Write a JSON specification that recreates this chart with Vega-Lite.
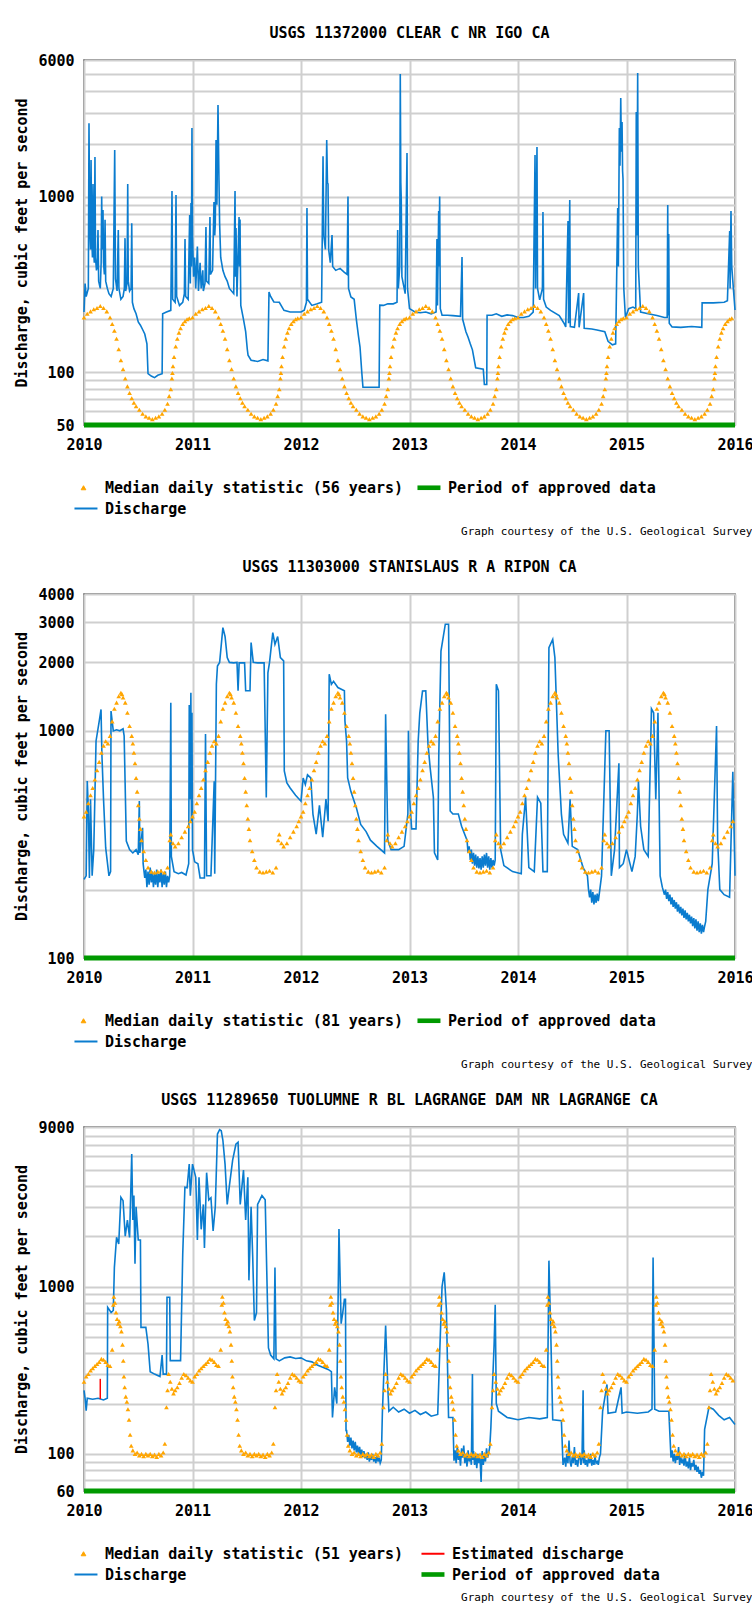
{
"$schema":"https://vega.github.io/schema/vega-lite/v6.json",
"background":"white",
"padding":{"left":14,"top":25,"right":0,"bottom":0},
"spacing":22,
"resolve":{"scale":{"color":"independent"},"legend":{"color":"independent"}},
"config":{
 "font":"DejaVu Sans Mono",
 "view":{"stroke":"#555555","strokeWidth":1.5},
 "axis":{"labelFont":"DejaVu Sans Mono","labelFontSize":15,"labelFontWeight":"bold","labelColor":"#000000","titleFont":"DejaVu Sans Mono","titleFontSize":15,"titleFontWeight":"bold","titleColor":"#000000","gridColor":"#cfcfcf","gridWidth":2,"gridOpacity":1,"domain":false,"ticks":false,"labelFlush":false,"labelOverlap":false},
 "axisY":{"labelPadding":10,"titlePadding":8},
 "axisX":{"labelPadding":12,"titleFontSize":11,"titleFontWeight":"normal","titleX":668,"titleY":106,"titleAlign":"right","titleBaseline":"middle","titleAnchor":"start"},
 "legend":{"labelFont":"DejaVu Sans Mono","labelFontSize":15,"labelFontWeight":"bold","labelColor":"#000000","labelLimit":500,"labelOffset":14,"symbolSize":441,"columnPadding":13,"rowPadding":5,"padding":0,"symbolStrokeWidth":2},
 "title":{"font":"DejaVu Sans Mono","fontSize":15,"fontWeight":"bold","color":"#000000","offset":12}
},
"datasets":{
"d1":[{"t":2010,"v":220},{"t":2010.01,"v":320},{"t":2010.02,"v":270},{"t":2010.04,"v":300},{"t":2010.046,"v":2620},{"t":2010.052,"v":700},{"t":2010.06,"v":500},{"t":2010.065,"v":1615},{"t":2010.07,"v":600},{"t":2010.078,"v":450},{"t":2010.083,"v":1180},{"t":2010.088,"v":500},{"t":2010.095,"v":420},{"t":2010.101,"v":1680},{"t":2010.106,"v":450},{"t":2010.115,"v":380},{"t":2010.122,"v":400},{"t":2010.129,"v":645},{"t":2010.135,"v":330},{"t":2010.15,"v":300},{"t":2010.158,"v":420},{"t":2010.163,"v":1000},{"t":2010.168,"v":500},{"t":2010.175,"v":840},{"t":2010.18,"v":420},{"t":2010.188,"v":360},{"t":2010.194,"v":737},{"t":2010.2,"v":330},{"t":2010.215,"v":300},{"t":2010.23,"v":280},{"t":2010.25,"v":270},{"t":2010.27,"v":300},{"t":2010.283,"v":1840},{"t":2010.29,"v":340},{"t":2010.305,"v":290},{"t":2010.316,"v":645},{"t":2010.322,"v":300},{"t":2010.34,"v":260},{"t":2010.36,"v":270},{"t":2010.372,"v":300},{"t":2010.378,"v":580},{"t":2010.384,"v":290},{"t":2010.397,"v":320},{"t":2010.403,"v":1180},{"t":2010.408,"v":330},{"t":2010.42,"v":290},{"t":2010.434,"v":300},{"t":2010.44,"v":706},{"t":2010.446,"v":250},{"t":2010.46,"v":230},{"t":2010.48,"v":215},{"t":2010.5,"v":193},{"t":2010.52,"v":185},{"t":2010.54,"v":175},{"t":2010.56,"v":165},{"t":2010.58,"v":145},{"t":2010.59,"v":98},{"t":2010.62,"v":95},{"t":2010.65,"v":93},{"t":2010.68,"v":96},{"t":2010.72,"v":98},{"t":2010.725,"v":215},{"t":2010.76,"v":220},{"t":2010.8,"v":225},{"t":2010.811,"v":1077},{"t":2010.817,"v":260},{"t":2010.84,"v":250},{"t":2010.848,"v":1020},{"t":2010.854,"v":270},{"t":2010.88,"v":240},{"t":2010.91,"v":250},{"t":2010.925,"v":280},{"t":2010.931,"v":573},{"t":2010.937,"v":270},{"t":2010.96,"v":260},{"t":2010.974,"v":785},{"t":2010.98,"v":320},{"t":2010.986,"v":918},{"t":2010.99,"v":400},{"t":2010.995,"v":2460},{"t":2011,"v":600},{"t":2011.01,"v":350},{"t":2011.02,"v":450},{"t":2011.03,"v":300},{"t":2011.045,"v":520},{"t":2011.055,"v":290},{"t":2011.07,"v":420},{"t":2011.08,"v":300},{"t":2011.095,"v":380},{"t":2011.1,"v":290},{"t":2011.115,"v":320},{"t":2011.124,"v":671},{"t":2011.13,"v":330},{"t":2011.15,"v":320},{"t":2011.161,"v":765},{"t":2011.166,"v":360},{"t":2011.185,"v":380},{"t":2011.198,"v":933},{"t":2011.205,"v":600},{"t":2011.21,"v":700},{"t":2011.217,"v":2100},{"t":2011.225,"v":900},{"t":2011.235,"v":3325},{"t":2011.244,"v":1240},{"t":2011.25,"v":700},{"t":2011.26,"v":450},{"t":2011.28,"v":380},{"t":2011.3,"v":350},{"t":2011.32,"v":330},{"t":2011.34,"v":300},{"t":2011.38,"v":280},{"t":2011.392,"v":1077},{"t":2011.396,"v":350},{"t":2011.401,"v":662},{"t":2011.41,"v":270},{"t":2011.429,"v":765},{"t":2011.433,"v":400},{"t":2011.438,"v":740},{"t":2011.445,"v":240},{"t":2011.47,"v":200},{"t":2011.49,"v":170},{"t":2011.505,"v":135},{"t":2011.512,"v":125},{"t":2011.54,"v":117},{"t":2011.6,"v":115},{"t":2011.65,"v":118},{"t":2011.695,"v":116},{"t":2011.705,"v":286},{"t":2011.72,"v":270},{"t":2011.75,"v":251},{"t":2011.8,"v":250},{"t":2011.843,"v":225},{"t":2011.9,"v":220},{"t":2012,"v":220},{"t":2012.03,"v":225},{"t":2012.05,"v":250},{"t":2012.055,"v":860},{"t":2012.06,"v":260},{"t":2012.1,"v":240},{"t":2012.15,"v":245},{"t":2012.19,"v":250},{"t":2012.203,"v":1700},{"t":2012.21,"v":600},{"t":2012.225,"v":500},{"t":2012.237,"v":2100},{"t":2012.244,"v":1200},{"t":2012.249,"v":1180},{"t":2012.255,"v":500},{"t":2012.27,"v":420},{"t":2012.286,"v":604},{"t":2012.292,"v":400},{"t":2012.32,"v":380},{"t":2012.36,"v":390},{"t":2012.4,"v":370},{"t":2012.425,"v":360},{"t":2012.433,"v":1000},{"t":2012.438,"v":300},{"t":2012.46,"v":268},{"t":2012.49,"v":260},{"t":2012.51,"v":200},{"t":2012.53,"v":160},{"t":2012.544,"v":139},{"t":2012.56,"v":100},{"t":2012.571,"v":82},{"t":2012.65,"v":82},{"t":2012.72,"v":82},{"t":2012.726,"v":241},{"t":2012.76,"v":240},{"t":2012.8,"v":245},{"t":2012.85,"v":245},{"t":2012.885,"v":250},{"t":2012.891,"v":645},{"t":2012.897,"v":300},{"t":2012.91,"v":400},{"t":2012.915,"v":4990},{"t":2012.92,"v":1200},{"t":2012.924,"v":968},{"t":2012.93,"v":350},{"t":2012.96,"v":280},{"t":2012.977,"v":1770},{"t":2012.982,"v":300},{"t":2013,"v":230},{"t":2013.05,"v":220},{"t":2013.1,"v":218},{"t":2013.15,"v":220},{"t":2013.2,"v":215},{"t":2013.245,"v":220},{"t":2013.253,"v":573},{"t":2013.258,"v":240},{"t":2013.269,"v":828},{"t":2013.273,"v":400},{"t":2013.278,"v":1000},{"t":2013.284,"v":230},{"t":2013.3,"v":211},{"t":2013.35,"v":211},{"t":2013.4,"v":210},{"t":2013.47,"v":208},{"t":2013.484,"v":453},{"t":2013.49,"v":200},{"t":2013.52,"v":170},{"t":2013.54,"v":158},{"t":2013.56,"v":145},{"t":2013.58,"v":134},{"t":2013.61,"v":106},{"t":2013.68,"v":104},{"t":2013.69,"v":85},{"t":2013.712,"v":85},{"t":2013.715,"v":211},{"t":2013.76,"v":211},{"t":2013.8,"v":215},{"t":2013.85,"v":208},{"t":2013.9,"v":212},{"t":2013.95,"v":210},{"t":2014,"v":205},{"t":2014.05,"v":205},{"t":2014.1,"v":208},{"t":2014.14,"v":220},{"t":2014.157,"v":1725},{"t":2014.162,"v":300},{"t":2014.175,"v":1914},{"t":2014.18,"v":300},{"t":2014.2,"v":258},{"t":2014.225,"v":300},{"t":2014.23,"v":817},{"t":2014.236,"v":260},{"t":2014.26,"v":235},{"t":2014.3,"v":225},{"t":2014.38,"v":210},{"t":2014.424,"v":190},{"t":2014.44,"v":181},{"t":2014.461,"v":726},{"t":2014.466,"v":190},{"t":2014.477,"v":957},{"t":2014.482,"v":182},{"t":2014.52,"v":180},{"t":2014.559,"v":282},{"t":2014.563,"v":180},{"t":2014.605,"v":282},{"t":2014.61,"v":178},{"t":2014.68,"v":176},{"t":2014.728,"v":174},{"t":2014.8,"v":170},{"t":2014.83,"v":150},{"t":2014.87,"v":143},{"t":2014.9,"v":145},{"t":2014.919,"v":860},{"t":2014.925,"v":400},{"t":2014.934,"v":2460},{"t":2014.94,"v":1500},{"t":2014.947,"v":3640},{"t":2014.953,"v":1800},{"t":2014.959,"v":2660},{"t":2014.964,"v":1400},{"t":2014.968,"v":1260},{"t":2014.975,"v":300},{"t":2014.99,"v":205},{"t":2015.02,"v":230},{"t":2015.06,"v":235},{"t":2015.085,"v":230},{"t":2015.09,"v":3030},{"t":2015.096,"v":600},{"t":2015.103,"v":5060},{"t":2015.109,"v":400},{"t":2015.13,"v":220},{"t":2015.2,"v":215},{"t":2015.28,"v":210},{"t":2015.35,"v":205},{"t":2015.375,"v":205},{"t":2015.38,"v":895},{"t":2015.384,"v":210},{"t":2015.389,"v":612},{"t":2015.394,"v":190},{"t":2015.42,"v":181},{"t":2015.5,"v":180},{"t":2015.6,"v":182},{"t":2015.694,"v":180},{"t":2015.697,"v":248},{"t":2015.8,"v":248},{"t":2015.9,"v":250},{"t":2015.93,"v":255},{"t":2015.951,"v":637},{"t":2015.955,"v":300},{"t":2015.963,"v":828},{"t":2015.97,"v":400},{"t":2015.985,"v":300},{"t":2016,"v":226}],
"m1":[{"t":2010,"v":205},{"t":2010.03,"v":215},{"t":2010.06,"v":222},{"t":2010.09,"v":228},{"t":2010.12,"v":232},{"t":2010.15,"v":238},{"t":2010.18,"v":232},{"t":2010.21,"v":222},{"t":2010.24,"v":205},{"t":2010.26,"v":188},{"t":2010.28,"v":172},{"t":2010.3,"v":155},{"t":2010.32,"v":135},{"t":2010.34,"v":117},{"t":2010.36,"v":104},{"t":2010.38,"v":92},{"t":2010.4,"v":83},{"t":2010.42,"v":76},{"t":2010.44,"v":71},{"t":2010.46,"v":67},{"t":2010.48,"v":64},{"t":2010.51,"v":61},{"t":2010.54,"v":58},{"t":2010.57,"v":56},{"t":2010.6,"v":55},{"t":2010.63,"v":54},{"t":2010.66,"v":55},{"t":2010.69,"v":56},{"t":2010.72,"v":58},{"t":2010.745,"v":61},{"t":2010.77,"v":66},{"t":2010.785,"v":73},{"t":2010.8,"v":80},{"t":2010.81,"v":92},{"t":2010.815,"v":99},{"t":2010.82,"v":108},{"t":2010.83,"v":122},{"t":2010.845,"v":140},{"t":2010.86,"v":155},{"t":2010.875,"v":168},{"t":2010.89,"v":178},{"t":2010.91,"v":188},{"t":2010.93,"v":195},{"t":2010.95,"v":200},{"t":2010.97,"v":203},
{"t":2011,"v":205},{"t":2011.03,"v":215},{"t":2011.06,"v":222},{"t":2011.09,"v":228},{"t":2011.12,"v":232},{"t":2011.15,"v":238},{"t":2011.18,"v":232},{"t":2011.21,"v":222},{"t":2011.24,"v":205},{"t":2011.26,"v":188},{"t":2011.28,"v":172},{"t":2011.3,"v":155},{"t":2011.32,"v":135},{"t":2011.34,"v":117},{"t":2011.36,"v":104},{"t":2011.38,"v":92},{"t":2011.4,"v":83},{"t":2011.42,"v":76},{"t":2011.44,"v":71},{"t":2011.46,"v":67},{"t":2011.48,"v":64},{"t":2011.51,"v":61},{"t":2011.54,"v":58},{"t":2011.57,"v":56},{"t":2011.6,"v":55},{"t":2011.63,"v":54},{"t":2011.66,"v":55},{"t":2011.69,"v":56},{"t":2011.72,"v":58},{"t":2011.745,"v":61},{"t":2011.77,"v":66},{"t":2011.785,"v":73},{"t":2011.8,"v":80},{"t":2011.81,"v":92},{"t":2011.815,"v":99},{"t":2011.82,"v":108},{"t":2011.83,"v":122},{"t":2011.845,"v":140},{"t":2011.86,"v":155},{"t":2011.875,"v":168},{"t":2011.89,"v":178},{"t":2011.91,"v":188},{"t":2011.93,"v":195},{"t":2011.95,"v":200},{"t":2011.97,"v":203},
{"t":2012,"v":205},{"t":2012.03,"v":215},{"t":2012.06,"v":222},{"t":2012.09,"v":228},{"t":2012.12,"v":232},{"t":2012.15,"v":238},{"t":2012.18,"v":232},{"t":2012.21,"v":222},{"t":2012.24,"v":205},{"t":2012.26,"v":188},{"t":2012.28,"v":172},{"t":2012.3,"v":155},{"t":2012.32,"v":135},{"t":2012.34,"v":117},{"t":2012.36,"v":104},{"t":2012.38,"v":92},{"t":2012.4,"v":83},{"t":2012.42,"v":76},{"t":2012.44,"v":71},{"t":2012.46,"v":67},{"t":2012.48,"v":64},{"t":2012.51,"v":61},{"t":2012.54,"v":58},{"t":2012.57,"v":56},{"t":2012.6,"v":55},{"t":2012.63,"v":54},{"t":2012.66,"v":55},{"t":2012.69,"v":56},{"t":2012.72,"v":58},{"t":2012.745,"v":61},{"t":2012.77,"v":66},{"t":2012.785,"v":73},{"t":2012.8,"v":80},{"t":2012.81,"v":92},{"t":2012.815,"v":99},{"t":2012.82,"v":108},{"t":2012.83,"v":122},{"t":2012.845,"v":140},{"t":2012.86,"v":155},{"t":2012.875,"v":168},{"t":2012.89,"v":178},{"t":2012.91,"v":188},{"t":2012.93,"v":195},{"t":2012.95,"v":200},{"t":2012.97,"v":203},
{"t":2013,"v":205},{"t":2013.03,"v":215},{"t":2013.06,"v":222},{"t":2013.09,"v":228},{"t":2013.12,"v":232},{"t":2013.15,"v":238},{"t":2013.18,"v":232},{"t":2013.21,"v":222},{"t":2013.24,"v":205},{"t":2013.26,"v":188},{"t":2013.28,"v":172},{"t":2013.3,"v":155},{"t":2013.32,"v":135},{"t":2013.34,"v":117},{"t":2013.36,"v":104},{"t":2013.38,"v":92},{"t":2013.4,"v":83},{"t":2013.42,"v":76},{"t":2013.44,"v":71},{"t":2013.46,"v":67},{"t":2013.48,"v":64},{"t":2013.51,"v":61},{"t":2013.54,"v":58},{"t":2013.57,"v":56},{"t":2013.6,"v":55},{"t":2013.63,"v":54},{"t":2013.66,"v":55},{"t":2013.69,"v":56},{"t":2013.72,"v":58},{"t":2013.745,"v":61},{"t":2013.77,"v":66},{"t":2013.785,"v":73},{"t":2013.8,"v":80},{"t":2013.81,"v":92},{"t":2013.815,"v":99},{"t":2013.82,"v":108},{"t":2013.83,"v":122},{"t":2013.845,"v":140},{"t":2013.86,"v":155},{"t":2013.875,"v":168},{"t":2013.89,"v":178},{"t":2013.91,"v":188},{"t":2013.93,"v":195},{"t":2013.95,"v":200},{"t":2013.97,"v":203},
{"t":2014,"v":205},{"t":2014.03,"v":215},{"t":2014.06,"v":222},{"t":2014.09,"v":228},{"t":2014.12,"v":232},{"t":2014.15,"v":238},{"t":2014.18,"v":232},{"t":2014.21,"v":222},{"t":2014.24,"v":205},{"t":2014.26,"v":188},{"t":2014.28,"v":172},{"t":2014.3,"v":155},{"t":2014.32,"v":135},{"t":2014.34,"v":117},{"t":2014.36,"v":104},{"t":2014.38,"v":92},{"t":2014.4,"v":83},{"t":2014.42,"v":76},{"t":2014.44,"v":71},{"t":2014.46,"v":67},{"t":2014.48,"v":64},{"t":2014.51,"v":61},{"t":2014.54,"v":58},{"t":2014.57,"v":56},{"t":2014.6,"v":55},{"t":2014.63,"v":54},{"t":2014.66,"v":55},{"t":2014.69,"v":56},{"t":2014.72,"v":58},{"t":2014.745,"v":61},{"t":2014.77,"v":66},{"t":2014.785,"v":73},{"t":2014.8,"v":80},{"t":2014.81,"v":92},{"t":2014.815,"v":99},{"t":2014.82,"v":108},{"t":2014.83,"v":122},{"t":2014.845,"v":140},{"t":2014.86,"v":155},{"t":2014.875,"v":168},{"t":2014.89,"v":178},{"t":2014.91,"v":188},{"t":2014.93,"v":195},{"t":2014.95,"v":200},{"t":2014.97,"v":203},
{"t":2015,"v":205},{"t":2015.03,"v":215},{"t":2015.06,"v":222},{"t":2015.09,"v":228},{"t":2015.12,"v":232},{"t":2015.15,"v":238},{"t":2015.18,"v":232},{"t":2015.21,"v":222},{"t":2015.24,"v":205},{"t":2015.26,"v":188},{"t":2015.28,"v":172},{"t":2015.3,"v":155},{"t":2015.32,"v":135},{"t":2015.34,"v":117},{"t":2015.36,"v":104},{"t":2015.38,"v":92},{"t":2015.4,"v":83},{"t":2015.42,"v":76},{"t":2015.44,"v":71},{"t":2015.46,"v":67},{"t":2015.48,"v":64},{"t":2015.51,"v":61},{"t":2015.54,"v":58},{"t":2015.57,"v":56},{"t":2015.6,"v":55},{"t":2015.63,"v":54},{"t":2015.66,"v":55},{"t":2015.69,"v":56},{"t":2015.72,"v":58},{"t":2015.745,"v":61},{"t":2015.77,"v":66},{"t":2015.785,"v":73},{"t":2015.8,"v":80},{"t":2015.81,"v":92},{"t":2015.815,"v":99},{"t":2015.82,"v":108},{"t":2015.83,"v":122},{"t":2015.845,"v":140},{"t":2015.86,"v":155},{"t":2015.875,"v":168},{"t":2015.89,"v":178},{"t":2015.91,"v":188},{"t":2015.93,"v":195},{"t":2015.95,"v":200},{"t":2015.97,"v":203}],
"d2":[{"t":2010,"v":222},{"t":2010.02,"v":230},{"t":2010.03,"v":601},{"t":2010.04,"v":450},{"t":2010.05,"v":225},{"t":2010.06,"v":500},{"t":2010.075,"v":230},{"t":2010.09,"v":300},{"t":2010.111,"v":902},{"t":2010.14,"v":1100},{"t":2010.157,"v":1242},{"t":2010.165,"v":788},{"t":2010.18,"v":500},{"t":2010.2,"v":305},{"t":2010.23,"v":230},{"t":2010.245,"v":240},{"t":2010.249,"v":1222},{"t":2010.27,"v":998},{"t":2010.3,"v":1010},{"t":2010.33,"v":1000},{"t":2010.36,"v":1020},{"t":2010.37,"v":950},{"t":2010.39,"v":327},{"t":2010.42,"v":300},{"t":2010.45,"v":290},{"t":2010.48,"v":300},{"t":2010.5,"v":285},{"t":2010.51,"v":491},{"t":2010.515,"v":290},{"t":2010.54,"v":374},{"t":2010.545,"v":260},{"t":2010.56,"v":225},{"t":2010.57,"v":245},{"t":2010.58,"v":205},{"t":2010.59,"v":240},{"t":2010.6,"v":210},{"t":2010.61,"v":250},{"t":2010.62,"v":215},{"t":2010.63,"v":240},{"t":2010.64,"v":205},{"t":2010.65,"v":235},{"t":2010.66,"v":210},{"t":2010.67,"v":245},{"t":2010.68,"v":205},{"t":2010.69,"v":235},{"t":2010.7,"v":215},{"t":2010.71,"v":245},{"t":2010.72,"v":205},{"t":2010.73,"v":235},{"t":2010.74,"v":210},{"t":2010.75,"v":240},{"t":2010.76,"v":205},{"t":2010.77,"v":230},{"t":2010.78,"v":215},{"t":2010.79,"v":230},{"t":2010.8,"v":1329},{"t":2010.805,"v":280},{"t":2010.83,"v":240},{"t":2010.87,"v":235},{"t":2010.9,"v":238},{"t":2010.94,"v":232},{"t":2010.965,"v":260},{"t":2010.97,"v":1300},{"t":2010.975,"v":500},{"t":2010.985,"v":1471},{"t":2010.99,"v":400},{"t":2010.995,"v":1200},{"t":2011,"v":300},{"t":2011.02,"v":265},{"t":2011.05,"v":260},{"t":2011.07,"v":225},{"t":2011.11,"v":225},{"t":2011.12,"v":968},{"t":2011.13,"v":230},{"t":2011.17,"v":230},{"t":2011.2,"v":600},{"t":2011.205,"v":235},{"t":2011.22,"v":1604},{"t":2011.23,"v":1928},{"t":2011.25,"v":2000},{"t":2011.28,"v":2845},{"t":2011.3,"v":2600},{"t":2011.32,"v":2100},{"t":2011.34,"v":2000},{"t":2011.38,"v":1990},{"t":2011.41,"v":2000},{"t":2011.42,"v":1500},{"t":2011.43,"v":1990},{"t":2011.48,"v":1990},{"t":2011.49,"v":1500},{"t":2011.53,"v":1500},{"t":2011.54,"v":2445},{"t":2011.56,"v":2000},{"t":2011.6,"v":1990},{"t":2011.66,"v":1990},{"t":2011.68,"v":509},{"t":2011.695,"v":1800},{"t":2011.71,"v":2000},{"t":2011.74,"v":2706},{"t":2011.76,"v":2400},{"t":2011.785,"v":2600},{"t":2011.81,"v":2100},{"t":2011.84,"v":2030},{"t":2011.846,"v":666},{"t":2011.87,"v":590},{"t":2011.9,"v":560},{"t":2011.95,"v":520},{"t":2012,"v":490},{"t":2012.02,"v":620},{"t":2012.04,"v":580},{"t":2012.06,"v":640},{"t":2012.09,"v":620},{"t":2012.11,"v":430},{"t":2012.14,"v":351},{"t":2012.17,"v":470},{"t":2012.2,"v":340},{"t":2012.23,"v":500},{"t":2012.25,"v":400},{"t":2012.26,"v":1774},{"t":2012.28,"v":1600},{"t":2012.3,"v":1650},{"t":2012.34,"v":1550},{"t":2012.4,"v":1500},{"t":2012.405,"v":1104},{"t":2012.42,"v":900},{"t":2012.43,"v":620},{"t":2012.46,"v":540},{"t":2012.49,"v":490},{"t":2012.51,"v":459},{"t":2012.55,"v":387},{"t":2012.6,"v":360},{"t":2012.64,"v":330},{"t":2012.7,"v":310},{"t":2012.77,"v":290},{"t":2012.78,"v":1183},{"t":2012.8,"v":330},{"t":2012.83,"v":300},{"t":2012.9,"v":300},{"t":2012.95,"v":310},{"t":2012.985,"v":430},{"t":2012.99,"v":1000},{"t":2013,"v":510},{"t":2013.02,"v":370},{"t":2013.06,"v":370},{"t":2013.08,"v":900},{"t":2013.095,"v":1200},{"t":2013.12,"v":1496},{"t":2013.15,"v":1500},{"t":2013.17,"v":880},{"t":2013.19,"v":690},{"t":2013.22,"v":510},{"t":2013.23,"v":290},{"t":2013.26,"v":270},{"t":2013.27,"v":790},{"t":2013.29,"v":2244},{"t":2013.33,"v":2945},{"t":2013.36,"v":2945},{"t":2013.375,"v":444},{"t":2013.4,"v":430},{"t":2013.45,"v":430},{"t":2013.48,"v":380},{"t":2013.53,"v":330},{"t":2013.54,"v":290},{"t":2013.55,"v":310},{"t":2013.56,"v":270},{"t":2013.57,"v":300},{"t":2013.58,"v":260},{"t":2013.59,"v":290},{"t":2013.6,"v":255},{"t":2013.61,"v":285},{"t":2013.62,"v":250},{"t":2013.63,"v":280},{"t":2013.64,"v":248},{"t":2013.65,"v":275},{"t":2013.66,"v":245},{"t":2013.67,"v":280},{"t":2013.68,"v":250},{"t":2013.69,"v":285},{"t":2013.7,"v":255},{"t":2013.71,"v":290},{"t":2013.72,"v":250},{"t":2013.73,"v":280},{"t":2013.74,"v":245},{"t":2013.75,"v":275},{"t":2013.76,"v":250},{"t":2013.77,"v":270},{"t":2013.78,"v":255},{"t":2013.79,"v":270},{"t":2013.8,"v":1604},{"t":2013.82,"v":1500},{"t":2013.84,"v":300},{"t":2013.87,"v":255},{"t":2013.95,"v":240},{"t":2014.03,"v":235},{"t":2014.04,"v":350},{"t":2014.07,"v":510},{"t":2014.1,"v":250},{"t":2014.15,"v":240},{"t":2014.18,"v":510},{"t":2014.21,"v":480},{"t":2014.23,"v":240},{"t":2014.27,"v":240},{"t":2014.285,"v":2322},{"t":2014.32,"v":2525},{"t":2014.34,"v":2100},{"t":2014.37,"v":790},{"t":2014.4,"v":430},{"t":2014.42,"v":350},{"t":2014.46,"v":320},{"t":2014.48,"v":500},{"t":2014.5,"v":310},{"t":2014.55,"v":300},{"t":2014.6,"v":250},{"t":2014.64,"v":230},{"t":2014.65,"v":200},{"t":2014.66,"v":185},{"t":2014.67,"v":200},{"t":2014.68,"v":175},{"t":2014.69,"v":195},{"t":2014.7,"v":172},{"t":2014.71,"v":190},{"t":2014.72,"v":175},{"t":2014.73,"v":192},{"t":2014.74,"v":178},{"t":2014.745,"v":185},{"t":2014.77,"v":230},{"t":2014.81,"v":1000},{"t":2014.84,"v":1000},{"t":2014.86,"v":230},{"t":2014.89,"v":300},{"t":2014.93,"v":720},{"t":2014.935,"v":250},{"t":2014.97,"v":260},{"t":2015,"v":300},{"t":2015.05,"v":240},{"t":2015.08,"v":280},{"t":2015.1,"v":430},{"t":2015.11,"v":600},{"t":2015.13,"v":380},{"t":2015.16,"v":300},{"t":2015.2,"v":280},{"t":2015.23,"v":1250},{"t":2015.25,"v":1200},{"t":2015.27,"v":500},{"t":2015.29,"v":1200},{"t":2015.31,"v":230},{"t":2015.33,"v":205},{"t":2015.35,"v":190},{"t":2015.36,"v":200},{"t":2015.37,"v":182},{"t":2015.38,"v":195},{"t":2015.39,"v":178},{"t":2015.4,"v":190},{"t":2015.41,"v":172},{"t":2015.42,"v":185},{"t":2015.43,"v":168},{"t":2015.44,"v":180},{"t":2015.45,"v":165},{"t":2015.46,"v":176},{"t":2015.47,"v":160},{"t":2015.48,"v":172},{"t":2015.49,"v":157},{"t":2015.5,"v":168},{"t":2015.51,"v":154},{"t":2015.52,"v":165},{"t":2015.53,"v":150},{"t":2015.54,"v":162},{"t":2015.55,"v":148},{"t":2015.56,"v":158},{"t":2015.57,"v":145},{"t":2015.58,"v":155},{"t":2015.59,"v":142},{"t":2015.6,"v":152},{"t":2015.61,"v":138},{"t":2015.62,"v":150},{"t":2015.63,"v":135},{"t":2015.64,"v":148},{"t":2015.65,"v":132},{"t":2015.66,"v":145},{"t":2015.67,"v":130},{"t":2015.68,"v":142},{"t":2015.69,"v":128},{"t":2015.7,"v":140},{"t":2015.71,"v":130},{"t":2015.72,"v":138},{"t":2015.73,"v":145},{"t":2015.75,"v":200},{"t":2015.79,"v":260},{"t":2015.83,"v":1050},{"t":2015.84,"v":330},{"t":2015.86,"v":200},{"t":2015.9,"v":190},{"t":2015.95,"v":185},{"t":2015.98,"v":660},{"t":2016,"v":230}],
"m2":[{"t":2010,"v":420},{"t":2010.02,"v":440},{"t":2010.04,"v":480},{"t":2010.06,"v":520},{"t":2010.08,"v":560},{"t":2010.1,"v":610},{"t":2010.12,"v":670},{"t":2010.14,"v":730},{"t":2010.16,"v":800},{"t":2010.18,"v":860},{"t":2010.2,"v":900},{"t":2010.22,"v":880},{"t":2010.24,"v":950},{"t":2010.26,"v":1100},{"t":2010.28,"v":1250},{"t":2010.3,"v":1330},{"t":2010.32,"v":1420},{"t":2010.34,"v":1470},{"t":2010.35,"v":1450},{"t":2010.36,"v":1400},{"t":2010.38,"v":1330},{"t":2010.4,"v":1200},{"t":2010.42,"v":1050},{"t":2010.44,"v":950},{"t":2010.45,"v":880},{"t":2010.46,"v":800},{"t":2010.47,"v":720},{"t":2010.48,"v":620},{"t":2010.49,"v":540},{"t":2010.5,"v":470},{"t":2010.51,"v":410},{"t":2010.52,"v":370},{"t":2010.53,"v":330},{"t":2010.55,"v":295},{"t":2010.57,"v":270},{"t":2010.59,"v":250},{"t":2010.62,"v":240},{"t":2010.65,"v":238},{"t":2010.68,"v":240},{"t":2010.71,"v":242},{"t":2010.74,"v":238},{"t":2010.77,"v":250},{"t":2010.79,"v":330},{"t":2010.8,"v":350},{"t":2010.82,"v":320},{"t":2010.84,"v":310},{"t":2010.87,"v":320},{"t":2010.9,"v":340},{"t":2010.93,"v":360},{"t":2010.96,"v":380},{"t":2010.98,"v":400},
{"t":2011,"v":420},{"t":2011.02,"v":440},{"t":2011.04,"v":480},{"t":2011.06,"v":520},{"t":2011.08,"v":560},{"t":2011.1,"v":610},{"t":2011.12,"v":670},{"t":2011.14,"v":730},{"t":2011.16,"v":800},{"t":2011.18,"v":860},{"t":2011.2,"v":900},{"t":2011.22,"v":880},{"t":2011.24,"v":950},{"t":2011.26,"v":1100},{"t":2011.28,"v":1250},{"t":2011.3,"v":1330},{"t":2011.32,"v":1420},{"t":2011.34,"v":1470},{"t":2011.35,"v":1450},{"t":2011.36,"v":1400},{"t":2011.38,"v":1330},{"t":2011.4,"v":1200},{"t":2011.42,"v":1050},{"t":2011.44,"v":950},{"t":2011.45,"v":880},{"t":2011.46,"v":800},{"t":2011.47,"v":720},{"t":2011.48,"v":620},{"t":2011.49,"v":540},{"t":2011.5,"v":470},{"t":2011.51,"v":410},{"t":2011.52,"v":370},{"t":2011.53,"v":330},{"t":2011.55,"v":295},{"t":2011.57,"v":270},{"t":2011.59,"v":250},{"t":2011.62,"v":240},{"t":2011.65,"v":238},{"t":2011.68,"v":240},{"t":2011.71,"v":242},{"t":2011.74,"v":238},{"t":2011.77,"v":250},{"t":2011.79,"v":330},{"t":2011.8,"v":350},{"t":2011.82,"v":320},{"t":2011.84,"v":310},{"t":2011.87,"v":320},{"t":2011.9,"v":340},{"t":2011.93,"v":360},{"t":2011.96,"v":380},{"t":2011.98,"v":400},
{"t":2012,"v":420},{"t":2012.02,"v":440},{"t":2012.04,"v":480},{"t":2012.06,"v":520},{"t":2012.08,"v":560},{"t":2012.1,"v":610},{"t":2012.12,"v":670},{"t":2012.14,"v":730},{"t":2012.16,"v":800},{"t":2012.18,"v":860},{"t":2012.2,"v":900},{"t":2012.22,"v":880},{"t":2012.24,"v":950},{"t":2012.26,"v":1100},{"t":2012.28,"v":1250},{"t":2012.3,"v":1330},{"t":2012.32,"v":1420},{"t":2012.34,"v":1470},{"t":2012.35,"v":1450},{"t":2012.36,"v":1400},{"t":2012.38,"v":1330},{"t":2012.4,"v":1200},{"t":2012.42,"v":1050},{"t":2012.44,"v":950},{"t":2012.45,"v":880},{"t":2012.46,"v":800},{"t":2012.47,"v":720},{"t":2012.48,"v":620},{"t":2012.49,"v":540},{"t":2012.5,"v":470},{"t":2012.51,"v":410},{"t":2012.52,"v":370},{"t":2012.53,"v":330},{"t":2012.55,"v":295},{"t":2012.57,"v":270},{"t":2012.59,"v":250},{"t":2012.62,"v":240},{"t":2012.65,"v":238},{"t":2012.68,"v":240},{"t":2012.71,"v":242},{"t":2012.74,"v":238},{"t":2012.77,"v":250},{"t":2012.79,"v":330},{"t":2012.8,"v":350},{"t":2012.82,"v":320},{"t":2012.84,"v":310},{"t":2012.87,"v":320},{"t":2012.9,"v":340},{"t":2012.93,"v":360},{"t":2012.96,"v":380},{"t":2012.98,"v":400},
{"t":2013,"v":420},{"t":2013.02,"v":440},{"t":2013.04,"v":480},{"t":2013.06,"v":520},{"t":2013.08,"v":560},{"t":2013.1,"v":610},{"t":2013.12,"v":670},{"t":2013.14,"v":730},{"t":2013.16,"v":800},{"t":2013.18,"v":860},{"t":2013.2,"v":900},{"t":2013.22,"v":880},{"t":2013.24,"v":950},{"t":2013.26,"v":1100},{"t":2013.28,"v":1250},{"t":2013.3,"v":1330},{"t":2013.32,"v":1420},{"t":2013.34,"v":1470},{"t":2013.35,"v":1450},{"t":2013.36,"v":1400},{"t":2013.38,"v":1330},{"t":2013.4,"v":1200},{"t":2013.42,"v":1050},{"t":2013.44,"v":950},{"t":2013.45,"v":880},{"t":2013.46,"v":800},{"t":2013.47,"v":720},{"t":2013.48,"v":620},{"t":2013.49,"v":540},{"t":2013.5,"v":470},{"t":2013.51,"v":410},{"t":2013.52,"v":370},{"t":2013.53,"v":330},{"t":2013.55,"v":295},{"t":2013.57,"v":270},{"t":2013.59,"v":250},{"t":2013.62,"v":240},{"t":2013.65,"v":238},{"t":2013.68,"v":240},{"t":2013.71,"v":242},{"t":2013.74,"v":238},{"t":2013.77,"v":250},{"t":2013.79,"v":330},{"t":2013.8,"v":350},{"t":2013.82,"v":320},{"t":2013.84,"v":310},{"t":2013.87,"v":320},{"t":2013.9,"v":340},{"t":2013.93,"v":360},{"t":2013.96,"v":380},{"t":2013.98,"v":400},
{"t":2014,"v":420},{"t":2014.02,"v":440},{"t":2014.04,"v":480},{"t":2014.06,"v":520},{"t":2014.08,"v":560},{"t":2014.1,"v":610},{"t":2014.12,"v":670},{"t":2014.14,"v":730},{"t":2014.16,"v":800},{"t":2014.18,"v":860},{"t":2014.2,"v":900},{"t":2014.22,"v":880},{"t":2014.24,"v":950},{"t":2014.26,"v":1100},{"t":2014.28,"v":1250},{"t":2014.3,"v":1330},{"t":2014.32,"v":1420},{"t":2014.34,"v":1470},{"t":2014.35,"v":1450},{"t":2014.36,"v":1400},{"t":2014.38,"v":1330},{"t":2014.4,"v":1200},{"t":2014.42,"v":1050},{"t":2014.44,"v":950},{"t":2014.45,"v":880},{"t":2014.46,"v":800},{"t":2014.47,"v":720},{"t":2014.48,"v":620},{"t":2014.49,"v":540},{"t":2014.5,"v":470},{"t":2014.51,"v":410},{"t":2014.52,"v":370},{"t":2014.53,"v":330},{"t":2014.55,"v":295},{"t":2014.57,"v":270},{"t":2014.59,"v":250},{"t":2014.62,"v":240},{"t":2014.65,"v":238},{"t":2014.68,"v":240},{"t":2014.71,"v":242},{"t":2014.74,"v":238},{"t":2014.77,"v":250},{"t":2014.79,"v":330},{"t":2014.8,"v":350},{"t":2014.82,"v":320},{"t":2014.84,"v":310},{"t":2014.87,"v":320},{"t":2014.9,"v":340},{"t":2014.93,"v":360},{"t":2014.96,"v":380},{"t":2014.98,"v":400},
{"t":2015,"v":420},{"t":2015.02,"v":440},{"t":2015.04,"v":480},{"t":2015.06,"v":520},{"t":2015.08,"v":560},{"t":2015.1,"v":610},{"t":2015.12,"v":670},{"t":2015.14,"v":730},{"t":2015.16,"v":800},{"t":2015.18,"v":860},{"t":2015.2,"v":900},{"t":2015.22,"v":880},{"t":2015.24,"v":950},{"t":2015.26,"v":1100},{"t":2015.28,"v":1250},{"t":2015.3,"v":1330},{"t":2015.32,"v":1420},{"t":2015.34,"v":1470},{"t":2015.35,"v":1450},{"t":2015.36,"v":1400},{"t":2015.38,"v":1330},{"t":2015.4,"v":1200},{"t":2015.42,"v":1050},{"t":2015.44,"v":950},{"t":2015.45,"v":880},{"t":2015.46,"v":800},{"t":2015.47,"v":720},{"t":2015.48,"v":620},{"t":2015.49,"v":540},{"t":2015.5,"v":470},{"t":2015.51,"v":410},{"t":2015.52,"v":370},{"t":2015.53,"v":330},{"t":2015.55,"v":295},{"t":2015.57,"v":270},{"t":2015.59,"v":250},{"t":2015.62,"v":240},{"t":2015.65,"v":238},{"t":2015.68,"v":240},{"t":2015.71,"v":242},{"t":2015.74,"v":238},{"t":2015.77,"v":250},{"t":2015.79,"v":330},{"t":2015.8,"v":350},{"t":2015.82,"v":320},{"t":2015.84,"v":310},{"t":2015.87,"v":320},{"t":2015.9,"v":340},{"t":2015.93,"v":360},{"t":2015.96,"v":380},{"t":2015.98,"v":400}],
"d3":[{"t":2010,"v":240},{"t":2010.01,"v":215},{"t":2010.02,"v":181},{"t":2010.03,"v":215},{"t":2010.08,"v":212},{"t":2010.13,"v":215},{"t":2010.18,"v":210},{"t":2010.215,"v":215},{"t":2010.218,"v":752},{"t":2010.25,"v":700},{"t":2010.27,"v":720},{"t":2010.28,"v":1304},{"t":2010.3,"v":1972},{"t":2010.32,"v":1800},{"t":2010.34,"v":3420},{"t":2010.36,"v":3266},{"t":2010.38,"v":2000},{"t":2010.4,"v":2500},{"t":2010.42,"v":1970},{"t":2010.44,"v":6200},{"t":2010.45,"v":2500},{"t":2010.46,"v":3500},{"t":2010.47,"v":1370},{"t":2010.48,"v":3000},{"t":2010.5,"v":1900},{"t":2010.52,"v":1900},{"t":2010.525,"v":571},{"t":2010.57,"v":571},{"t":2010.59,"v":454},{"t":2010.61,"v":310},{"t":2010.65,"v":300},{"t":2010.7,"v":290},{"t":2010.72,"v":390},{"t":2010.73,"v":300},{"t":2010.76,"v":300},{"t":2010.765,"v":863},{"t":2010.79,"v":863},{"t":2010.795,"v":361},{"t":2010.89,"v":361},{"t":2010.91,"v":1566},{"t":2010.93,"v":3930},{"t":2010.95,"v":3900},{"t":2010.97,"v":5400},{"t":2010.98,"v":3500},{"t":2011,"v":5400},{"t":2011.03,"v":4500},{"t":2011.045,"v":1900},{"t":2011.06,"v":4500},{"t":2011.08,"v":2200},{"t":2011.1,"v":3100},{"t":2011.11,"v":1700},{"t":2011.13,"v":4800},{"t":2011.15,"v":3300},{"t":2011.17,"v":3400},{"t":2011.19,"v":2150},{"t":2011.21,"v":3000},{"t":2011.23,"v":8170},{"t":2011.25,"v":8670},{"t":2011.265,"v":8550},{"t":2011.28,"v":7500},{"t":2011.3,"v":5400},{"t":2011.32,"v":3100},{"t":2011.34,"v":4000},{"t":2011.37,"v":5700},{"t":2011.4,"v":7100},{"t":2011.42,"v":7300},{"t":2011.44,"v":3100},{"t":2011.47,"v":4970},{"t":2011.49,"v":2500},{"t":2011.51,"v":4500},{"t":2011.52,"v":1090},{"t":2011.54,"v":3000},{"t":2011.555,"v":1500},{"t":2011.57,"v":627},{"t":2011.59,"v":700},{"t":2011.6,"v":3100},{"t":2011.64,"v":3500},{"t":2011.67,"v":3300},{"t":2011.7,"v":430},{"t":2011.72,"v":390},{"t":2011.75,"v":370},{"t":2011.76,"v":1300},{"t":2011.77,"v":370},{"t":2011.8,"v":360},{"t":2011.85,"v":375},{"t":2011.9,"v":380},{"t":2011.95,"v":372},{"t":2012,"v":375},{"t":2012.05,"v":360},{"t":2012.1,"v":355},{"t":2012.15,"v":340},{"t":2012.2,"v":330},{"t":2012.25,"v":320},{"t":2012.28,"v":310},{"t":2012.29,"v":165},{"t":2012.31,"v":250},{"t":2012.33,"v":200},{"t":2012.35,"v":2208},{"t":2012.37,"v":600},{"t":2012.385,"v":700},{"t":2012.4,"v":840},{"t":2012.41,"v":840},{"t":2012.415,"v":138},{"t":2012.42,"v":138},{"t":2012.43,"v":118},{"t":2012.44,"v":130},{"t":2012.45,"v":112},{"t":2012.46,"v":125},{"t":2012.47,"v":108},{"t":2012.48,"v":120},{"t":2012.49,"v":105},{"t":2012.5,"v":118},{"t":2012.51,"v":102},{"t":2012.52,"v":112},{"t":2012.53,"v":100},{"t":2012.54,"v":110},{"t":2012.55,"v":98},{"t":2012.56,"v":106},{"t":2012.57,"v":96},{"t":2012.58,"v":104},{"t":2012.59,"v":94},{"t":2012.6,"v":100},{"t":2012.61,"v":92},{"t":2012.62,"v":102},{"t":2012.63,"v":90},{"t":2012.64,"v":98},{"t":2012.65,"v":92},{"t":2012.66,"v":100},{"t":2012.67,"v":90},{"t":2012.68,"v":96},{"t":2012.69,"v":88},{"t":2012.7,"v":100},{"t":2012.71,"v":90},{"t":2012.72,"v":95},{"t":2012.73,"v":88},{"t":2012.74,"v":92},{"t":2012.75,"v":175},{"t":2012.78,"v":585},{"t":2012.8,"v":250},{"t":2012.81,"v":180},{"t":2012.85,"v":190},{"t":2012.9,"v":178},{"t":2012.95,"v":185},{"t":2013,"v":175},{"t":2013.05,"v":182},{"t":2013.1,"v":172},{"t":2013.15,"v":178},{"t":2013.2,"v":168},{"t":2013.26,"v":172},{"t":2013.28,"v":433},{"t":2013.3,"v":1000},{"t":2013.32,"v":1216},{"t":2013.34,"v":730},{"t":2013.36,"v":165},{"t":2013.4,"v":165},{"t":2013.41,"v":91},{"t":2013.42,"v":105},{"t":2013.43,"v":88},{"t":2013.44,"v":110},{"t":2013.45,"v":92},{"t":2013.46,"v":100},{"t":2013.47,"v":85},{"t":2013.48,"v":108},{"t":2013.49,"v":95},{"t":2013.5,"v":112},{"t":2013.51,"v":88},{"t":2013.52,"v":100},{"t":2013.53,"v":84},{"t":2013.54,"v":105},{"t":2013.55,"v":90},{"t":2013.56,"v":98},{"t":2013.57,"v":86},{"t":2013.58,"v":300},{"t":2013.585,"v":92},{"t":2013.59,"v":104},{"t":2013.6,"v":86},{"t":2013.61,"v":98},{"t":2013.62,"v":82},{"t":2013.63,"v":100},{"t":2013.64,"v":88},{"t":2013.65,"v":95},{"t":2013.66,"v":68},{"t":2013.665,"v":90},{"t":2013.67,"v":104},{"t":2013.68,"v":86},{"t":2013.69,"v":100},{"t":2013.7,"v":90},{"t":2013.71,"v":108},{"t":2013.72,"v":95},{"t":2013.73,"v":102},{"t":2013.74,"v":110},{"t":2013.75,"v":144},{"t":2013.78,"v":454},{"t":2013.79,"v":780},{"t":2013.8,"v":200},{"t":2013.82,"v":180},{"t":2013.9,"v":165},{"t":2014,"v":160},{"t":2014.1,"v":165},{"t":2014.2,"v":162},{"t":2014.27,"v":165},{"t":2014.285,"v":1430},{"t":2014.3,"v":600},{"t":2014.32,"v":160},{"t":2014.4,"v":158},{"t":2014.415,"v":86},{"t":2014.43,"v":95},{"t":2014.44,"v":84},{"t":2014.45,"v":100},{"t":2014.46,"v":88},{"t":2014.47,"v":120},{"t":2014.48,"v":90},{"t":2014.49,"v":84},{"t":2014.5,"v":96},{"t":2014.51,"v":88},{"t":2014.52,"v":110},{"t":2014.53,"v":86},{"t":2014.54,"v":92},{"t":2014.55,"v":84},{"t":2014.56,"v":95},{"t":2014.57,"v":100},{"t":2014.58,"v":86},{"t":2014.59,"v":94},{"t":2014.6,"v":240},{"t":2014.605,"v":88},{"t":2014.61,"v":105},{"t":2014.62,"v":86},{"t":2014.63,"v":92},{"t":2014.64,"v":84},{"t":2014.65,"v":95},{"t":2014.66,"v":88},{"t":2014.67,"v":100},{"t":2014.68,"v":85},{"t":2014.69,"v":92},{"t":2014.7,"v":86},{"t":2014.71,"v":96},{"t":2014.72,"v":88},{"t":2014.73,"v":90},{"t":2014.74,"v":86},{"t":2014.75,"v":95},{"t":2014.76,"v":100},{"t":2014.78,"v":180},{"t":2014.82,"v":260},{"t":2014.83,"v":175},{"t":2014.9,"v":178},{"t":2014.95,"v":250},{"t":2014.96,"v":175},{"t":2015,"v":178},{"t":2015.1,"v":175},{"t":2015.2,"v":178},{"t":2015.235,"v":185},{"t":2015.245,"v":1495},{"t":2015.26,"v":185},{"t":2015.3,"v":180},{"t":2015.39,"v":180},{"t":2015.41,"v":95},{"t":2015.42,"v":105},{"t":2015.43,"v":90},{"t":2015.44,"v":100},{"t":2015.45,"v":88},{"t":2015.46,"v":98},{"t":2015.47,"v":92},{"t":2015.48,"v":110},{"t":2015.49,"v":86},{"t":2015.5,"v":96},{"t":2015.51,"v":88},{"t":2015.52,"v":92},{"t":2015.53,"v":85},{"t":2015.54,"v":100},{"t":2015.55,"v":84},{"t":2015.56,"v":90},{"t":2015.57,"v":82},{"t":2015.58,"v":95},{"t":2015.59,"v":80},{"t":2015.6,"v":88},{"t":2015.61,"v":84},{"t":2015.62,"v":92},{"t":2015.63,"v":80},{"t":2015.64,"v":86},{"t":2015.65,"v":78},{"t":2015.66,"v":84},{"t":2015.67,"v":76},{"t":2015.68,"v":80},{"t":2015.69,"v":72},{"t":2015.7,"v":78},{"t":2015.71,"v":74},{"t":2015.72,"v":140},{"t":2015.76,"v":190},{"t":2015.8,"v":185},{"t":2015.85,"v":170},{"t":2015.9,"v":160},{"t":2015.95,"v":165},{"t":2016,"v":150}],
"m3":[{"t":2010,"v":270},{"t":2010.02,"v":290},{"t":2010.04,"v":300},{"t":2010.06,"v":315},{"t":2010.08,"v":325},{"t":2010.1,"v":335},{"t":2010.12,"v":345},{"t":2010.14,"v":355},{"t":2010.16,"v":370},{"t":2010.18,"v":365},{"t":2010.2,"v":355},{"t":2010.22,"v":340},{"t":2010.24,"v":335},{"t":2010.26,"v":420},{"t":2010.27,"v":780},{"t":2010.275,"v":870},{"t":2010.285,"v":800},{"t":2010.295,"v":700},{"t":2010.305,"v":640},{"t":2010.315,"v":600},{"t":2010.325,"v":620},{"t":2010.335,"v":580},{"t":2010.345,"v":540},{"t":2010.355,"v":450},{"t":2010.362,"v":360},{"t":2010.368,"v":290},{"t":2010.375,"v":250},{"t":2010.385,"v":220},{"t":2010.395,"v":205},{"t":2010.405,"v":185},{"t":2010.415,"v":160},{"t":2010.425,"v":130},{"t":2010.435,"v":112},{"t":2010.45,"v":105},{"t":2010.47,"v":100},{"t":2010.49,"v":102},{"t":2010.51,"v":98},{"t":2010.53,"v":100},{"t":2010.55,"v":97},{"t":2010.57,"v":100},{"t":2010.59,"v":98},{"t":2010.61,"v":100},{"t":2010.63,"v":97},{"t":2010.65,"v":99},{"t":2010.67,"v":96},{"t":2010.69,"v":100},{"t":2010.71,"v":98},{"t":2010.73,"v":102},{"t":2010.745,"v":115},{"t":2010.76,"v":190},{"t":2010.77,"v":240},{"t":2010.78,"v":300},{"t":2010.795,"v":270},{"t":2010.81,"v":245},{"t":2010.825,"v":230},{"t":2010.84,"v":240},{"t":2010.86,"v":250},{"t":2010.88,"v":265},{"t":2010.9,"v":285},{"t":2010.92,"v":300},{"t":2010.94,"v":295},{"t":2010.96,"v":285},{"t":2010.98,"v":275},
{"t":2011,"v":270},{"t":2011.02,"v":290},{"t":2011.04,"v":300},{"t":2011.06,"v":315},{"t":2011.08,"v":325},{"t":2011.1,"v":335},{"t":2011.12,"v":345},{"t":2011.14,"v":355},{"t":2011.16,"v":370},{"t":2011.18,"v":365},{"t":2011.2,"v":355},{"t":2011.22,"v":340},{"t":2011.24,"v":335},{"t":2011.26,"v":420},{"t":2011.27,"v":780},{"t":2011.275,"v":870},{"t":2011.285,"v":800},{"t":2011.295,"v":700},{"t":2011.305,"v":640},{"t":2011.315,"v":600},{"t":2011.325,"v":620},{"t":2011.335,"v":580},{"t":2011.345,"v":540},{"t":2011.355,"v":450},{"t":2011.362,"v":360},{"t":2011.368,"v":290},{"t":2011.375,"v":250},{"t":2011.385,"v":220},{"t":2011.395,"v":205},{"t":2011.405,"v":185},{"t":2011.415,"v":160},{"t":2011.425,"v":130},{"t":2011.435,"v":112},{"t":2011.45,"v":105},{"t":2011.47,"v":100},{"t":2011.49,"v":102},{"t":2011.51,"v":98},{"t":2011.53,"v":100},{"t":2011.55,"v":97},{"t":2011.57,"v":100},{"t":2011.59,"v":98},{"t":2011.61,"v":100},{"t":2011.63,"v":97},{"t":2011.65,"v":99},{"t":2011.67,"v":96},{"t":2011.69,"v":100},{"t":2011.71,"v":98},{"t":2011.73,"v":102},{"t":2011.745,"v":115},{"t":2011.76,"v":190},{"t":2011.77,"v":240},{"t":2011.78,"v":300},{"t":2011.795,"v":270},{"t":2011.81,"v":245},{"t":2011.825,"v":230},{"t":2011.84,"v":240},{"t":2011.86,"v":250},{"t":2011.88,"v":265},{"t":2011.9,"v":285},{"t":2011.92,"v":300},{"t":2011.94,"v":295},{"t":2011.96,"v":285},{"t":2011.98,"v":275},
{"t":2012,"v":270},{"t":2012.02,"v":290},{"t":2012.04,"v":300},{"t":2012.06,"v":315},{"t":2012.08,"v":325},{"t":2012.1,"v":335},{"t":2012.12,"v":345},{"t":2012.14,"v":355},{"t":2012.16,"v":370},{"t":2012.18,"v":365},{"t":2012.2,"v":355},{"t":2012.22,"v":340},{"t":2012.24,"v":335},{"t":2012.26,"v":420},{"t":2012.27,"v":780},{"t":2012.275,"v":870},{"t":2012.285,"v":800},{"t":2012.295,"v":700},{"t":2012.305,"v":640},{"t":2012.315,"v":600},{"t":2012.325,"v":620},{"t":2012.335,"v":580},{"t":2012.345,"v":540},{"t":2012.355,"v":450},{"t":2012.362,"v":360},{"t":2012.368,"v":290},{"t":2012.375,"v":250},{"t":2012.385,"v":220},{"t":2012.395,"v":205},{"t":2012.405,"v":185},{"t":2012.415,"v":160},{"t":2012.425,"v":130},{"t":2012.435,"v":112},{"t":2012.45,"v":105},{"t":2012.47,"v":100},{"t":2012.49,"v":102},{"t":2012.51,"v":98},{"t":2012.53,"v":100},{"t":2012.55,"v":97},{"t":2012.57,"v":100},{"t":2012.59,"v":98},{"t":2012.61,"v":100},{"t":2012.63,"v":97},{"t":2012.65,"v":99},{"t":2012.67,"v":96},{"t":2012.69,"v":100},{"t":2012.71,"v":98},{"t":2012.73,"v":102},{"t":2012.745,"v":115},{"t":2012.76,"v":190},{"t":2012.77,"v":240},{"t":2012.78,"v":300},{"t":2012.795,"v":270},{"t":2012.81,"v":245},{"t":2012.825,"v":230},{"t":2012.84,"v":240},{"t":2012.86,"v":250},{"t":2012.88,"v":265},{"t":2012.9,"v":285},{"t":2012.92,"v":300},{"t":2012.94,"v":295},{"t":2012.96,"v":285},{"t":2012.98,"v":275},
{"t":2013,"v":270},{"t":2013.02,"v":290},{"t":2013.04,"v":300},{"t":2013.06,"v":315},{"t":2013.08,"v":325},{"t":2013.1,"v":335},{"t":2013.12,"v":345},{"t":2013.14,"v":355},{"t":2013.16,"v":370},{"t":2013.18,"v":365},{"t":2013.2,"v":355},{"t":2013.22,"v":340},{"t":2013.24,"v":335},{"t":2013.26,"v":420},{"t":2013.27,"v":780},{"t":2013.275,"v":870},{"t":2013.285,"v":800},{"t":2013.295,"v":700},{"t":2013.305,"v":640},{"t":2013.315,"v":600},{"t":2013.325,"v":620},{"t":2013.335,"v":580},{"t":2013.345,"v":540},{"t":2013.355,"v":450},{"t":2013.362,"v":360},{"t":2013.368,"v":290},{"t":2013.375,"v":250},{"t":2013.385,"v":220},{"t":2013.395,"v":205},{"t":2013.405,"v":185},{"t":2013.415,"v":160},{"t":2013.425,"v":130},{"t":2013.435,"v":112},{"t":2013.45,"v":105},{"t":2013.47,"v":100},{"t":2013.49,"v":102},{"t":2013.51,"v":98},{"t":2013.53,"v":100},{"t":2013.55,"v":97},{"t":2013.57,"v":100},{"t":2013.59,"v":98},{"t":2013.61,"v":100},{"t":2013.63,"v":97},{"t":2013.65,"v":99},{"t":2013.67,"v":96},{"t":2013.69,"v":100},{"t":2013.71,"v":98},{"t":2013.73,"v":102},{"t":2013.745,"v":115},{"t":2013.76,"v":190},{"t":2013.77,"v":240},{"t":2013.78,"v":300},{"t":2013.795,"v":270},{"t":2013.81,"v":245},{"t":2013.825,"v":230},{"t":2013.84,"v":240},{"t":2013.86,"v":250},{"t":2013.88,"v":265},{"t":2013.9,"v":285},{"t":2013.92,"v":300},{"t":2013.94,"v":295},{"t":2013.96,"v":285},{"t":2013.98,"v":275},
{"t":2014,"v":270},{"t":2014.02,"v":290},{"t":2014.04,"v":300},{"t":2014.06,"v":315},{"t":2014.08,"v":325},{"t":2014.1,"v":335},{"t":2014.12,"v":345},{"t":2014.14,"v":355},{"t":2014.16,"v":370},{"t":2014.18,"v":365},{"t":2014.2,"v":355},{"t":2014.22,"v":340},{"t":2014.24,"v":335},{"t":2014.26,"v":420},{"t":2014.27,"v":780},{"t":2014.275,"v":870},{"t":2014.285,"v":800},{"t":2014.295,"v":700},{"t":2014.305,"v":640},{"t":2014.315,"v":600},{"t":2014.325,"v":620},{"t":2014.335,"v":580},{"t":2014.345,"v":540},{"t":2014.355,"v":450},{"t":2014.362,"v":360},{"t":2014.368,"v":290},{"t":2014.375,"v":250},{"t":2014.385,"v":220},{"t":2014.395,"v":205},{"t":2014.405,"v":185},{"t":2014.415,"v":160},{"t":2014.425,"v":130},{"t":2014.435,"v":112},{"t":2014.45,"v":105},{"t":2014.47,"v":100},{"t":2014.49,"v":102},{"t":2014.51,"v":98},{"t":2014.53,"v":100},{"t":2014.55,"v":97},{"t":2014.57,"v":100},{"t":2014.59,"v":98},{"t":2014.61,"v":100},{"t":2014.63,"v":97},{"t":2014.65,"v":99},{"t":2014.67,"v":96},{"t":2014.69,"v":100},{"t":2014.71,"v":98},{"t":2014.73,"v":102},{"t":2014.745,"v":115},{"t":2014.76,"v":190},{"t":2014.77,"v":240},{"t":2014.78,"v":300},{"t":2014.795,"v":270},{"t":2014.81,"v":245},{"t":2014.825,"v":230},{"t":2014.84,"v":240},{"t":2014.86,"v":250},{"t":2014.88,"v":265},{"t":2014.9,"v":285},{"t":2014.92,"v":300},{"t":2014.94,"v":295},{"t":2014.96,"v":285},{"t":2014.98,"v":275},
{"t":2015,"v":270},{"t":2015.02,"v":290},{"t":2015.04,"v":300},{"t":2015.06,"v":315},{"t":2015.08,"v":325},{"t":2015.1,"v":335},{"t":2015.12,"v":345},{"t":2015.14,"v":355},{"t":2015.16,"v":370},{"t":2015.18,"v":365},{"t":2015.2,"v":355},{"t":2015.22,"v":340},{"t":2015.24,"v":335},{"t":2015.26,"v":420},{"t":2015.27,"v":780},{"t":2015.275,"v":870},{"t":2015.285,"v":800},{"t":2015.295,"v":700},{"t":2015.305,"v":640},{"t":2015.315,"v":600},{"t":2015.325,"v":620},{"t":2015.335,"v":580},{"t":2015.345,"v":540},{"t":2015.355,"v":450},{"t":2015.362,"v":360},{"t":2015.368,"v":290},{"t":2015.375,"v":250},{"t":2015.385,"v":220},{"t":2015.395,"v":205},{"t":2015.405,"v":185},{"t":2015.415,"v":160},{"t":2015.425,"v":130},{"t":2015.435,"v":112},{"t":2015.45,"v":105},{"t":2015.47,"v":100},{"t":2015.49,"v":102},{"t":2015.51,"v":98},{"t":2015.53,"v":100},{"t":2015.55,"v":97},{"t":2015.57,"v":100},{"t":2015.59,"v":98},{"t":2015.61,"v":100},{"t":2015.63,"v":97},{"t":2015.65,"v":99},{"t":2015.67,"v":96},{"t":2015.69,"v":100},{"t":2015.71,"v":98},{"t":2015.73,"v":102},{"t":2015.745,"v":115},{"t":2015.76,"v":190},{"t":2015.77,"v":240},{"t":2015.78,"v":300},{"t":2015.795,"v":270},{"t":2015.81,"v":245},{"t":2015.825,"v":230},{"t":2015.84,"v":240},{"t":2015.86,"v":250},{"t":2015.88,"v":265},{"t":2015.9,"v":285},{"t":2015.92,"v":300},{"t":2015.94,"v":295},{"t":2015.96,"v":285},{"t":2015.98,"v":275}]
},
"vconcat":[
{
  "title":{"text":"USGS 11372000 CLEAR C NR IGO CA"},
  "width":651,"height":365,
  "encoding":{
   "x":{"field":"t","type":"quantitative","scale":{"domain":[2010,2016],"nice":false,"zero":false},"axis":{"title":"Graph courtesy of the U.S. Geological Survey","values":[2010,2011,2012,2013,2014,2015,2016],"format":"d"}},
   "y":{"field":"v","type":"quantitative","scale":{"type":"log","domain":[50,6000],"nice":false},"axis":{"title":"Discharge, cubic feet per second","values":[50,60,70,80,90,100,200,300,400,500,600,700,800,900,1000,2000,3000,4000,5000,6000],"format":"d","labelExpr":"(datum.value == 50 || datum.value == 100 || datum.value == 1000 || datum.value == 6000) ? datum.label : ''"}}
  },
  "layer":[
   {"data":{"name":"d1"},"mark":{"type":"line","strokeWidth":1.6},"encoding":{"color":{"datum":"Discharge","type":"nominal","scale":{"domain":["Median daily statistic (56 years)","Period of approved data","Discharge"],"range":["#ffa500","#009900","#0a7ccf"]},"legend":{"title":null,"orient":"none","legendX":-8,"legendY":420,"direction":"horizontal","columns":2,"encode":{"symbols":{"update":{"shape":{"signal":"datum.value == 'Period of approved data' ? 'M-0.86,-0.22H1.33V0.22H-0.86Z' : (datum.value == 'Discharge' ? 'M-0.86,0H1.33' : 'triangle-up')"},"size":{"signal":"(datum.value == 'Discharge' || datum.value == 'Period of approved data') ? 441 : 22"},"fill":{"signal":"datum.value == 'Period of approved data' ? '#009900' : (datum.value == 'Discharge' ? 'transparent' : '#ffa500')"},"stroke":{"signal":"datum.value == 'Discharge' ? '#0a7ccf' : (datum.value == 'Period of approved data' ? '#009900' : '#ffa500')"},"strokeWidth":{"signal":"datum.value == 'Discharge' ? 2 : (datum.value == 'Period of approved data' ? 0 : 1)"},"opacity":{"value":1}}}}}}}},
   {"data":{"name":"m1"},"mark":{"type":"point","shape":"triangle-up","filled":true,"size":22,"opacity":1},"encoding":{"color":{"datum":"Median daily statistic (56 years)","type":"nominal"}}},
   {"data":{"values":[{"t":2010,"t1":2016,"v":50}]},"mark":{"type":"rule","strokeWidth":5,"clip":false},"encoding":{"x2":{"field":"t1"},"color":{"datum":"Period of approved data","type":"nominal"}}}
  ]
},
{
  "title":{"text":"USGS 11303000 STANISLAUS R A RIPON CA"},
  "width":651,"height":364,
  "encoding":{
   "x":{"field":"t","type":"quantitative","scale":{"domain":[2010,2016],"nice":false,"zero":false},"axis":{"title":"Graph courtesy of the U.S. Geological Survey","values":[2010,2011,2012,2013,2014,2015,2016],"format":"d"}},
   "y":{"field":"v","type":"quantitative","scale":{"type":"log","domain":[100,4000],"nice":false},"axis":{"title":"Discharge, cubic feet per second","values":[100,200,300,400,500,600,700,800,900,1000,2000,3000,4000],"format":"d","labelExpr":"(datum.value == 100 || datum.value == 1000 || datum.value == 2000 || datum.value == 3000 || datum.value == 4000) ? datum.label : ''"}}
  },
  "layer":[
   {"data":{"name":"d2"},"mark":{"type":"line","strokeWidth":1.6},"encoding":{"color":{"datum":"Discharge","type":"nominal","scale":{"domain":["Median daily statistic (81 years)","Period of approved data","Discharge"],"range":["#ffa500","#009900","#0a7ccf"]},"legend":{"title":null,"orient":"none","legendX":-8,"legendY":419,"direction":"horizontal","columns":2,"encode":{"symbols":{"update":{"shape":{"signal":"datum.value == 'Period of approved data' ? 'M-0.86,-0.22H1.33V0.22H-0.86Z' : (datum.value == 'Discharge' ? 'M-0.86,0H1.33' : 'triangle-up')"},"size":{"signal":"(datum.value == 'Discharge' || datum.value == 'Period of approved data') ? 441 : 22"},"fill":{"signal":"datum.value == 'Period of approved data' ? '#009900' : (datum.value == 'Discharge' ? 'transparent' : '#ffa500')"},"stroke":{"signal":"datum.value == 'Discharge' ? '#0a7ccf' : (datum.value == 'Period of approved data' ? '#009900' : '#ffa500')"},"strokeWidth":{"signal":"datum.value == 'Discharge' ? 2 : (datum.value == 'Period of approved data' ? 0 : 1)"},"opacity":{"value":1}}}}}}}},
   {"data":{"name":"m2"},"mark":{"type":"point","shape":"triangle-up","filled":true,"size":22,"opacity":1},"encoding":{"color":{"datum":"Median daily statistic (81 years)","type":"nominal"}}},
   {"data":{"values":[{"t":2010,"t1":2016,"v":100}]},"mark":{"type":"rule","strokeWidth":5,"clip":false},"encoding":{"x2":{"field":"t1"},"color":{"datum":"Period of approved data","type":"nominal"}}}
  ]
},
{
  "title":{"text":"USGS 11289650 TUOLUMNE R BL LAGRANGE DAM NR LAGRANGE CA"},
  "width":651,"height":364,
  "encoding":{
   "x":{"field":"t","type":"quantitative","scale":{"domain":[2010,2016],"nice":false,"zero":false},"axis":{"title":"Graph courtesy of the U.S. Geological Survey","values":[2010,2011,2012,2013,2014,2015,2016],"format":"d"}},
   "y":{"field":"v","type":"quantitative","scale":{"type":"log","domain":[60,9000],"nice":false},"axis":{"title":"Discharge, cubic feet per second","values":[60,70,80,90,100,200,300,400,500,600,700,800,900,1000,2000,3000,4000,5000,6000,7000,8000,9000],"format":"d","labelExpr":"(datum.value == 60 || datum.value == 100 || datum.value == 1000 || datum.value == 9000) ? datum.label : ''"}}
  },
  "layer":[
   {"data":{"name":"d3"},"mark":{"type":"line","strokeWidth":1.6},"encoding":{"color":{"datum":"Discharge","type":"nominal","scale":{"domain":["Median daily statistic (51 years)","Estimated discharge","Discharge","Period of approved data"],"range":["#ffa500","#ff0000","#0a7ccf","#009900"]},"legend":{"title":null,"orient":"none","legendX":-8,"legendY":419,"direction":"horizontal","columns":2,"encode":{"symbols":{"update":{"shape":{"signal":"datum.value == 'Period of approved data' ? 'M-0.86,-0.22H1.33V0.22H-0.86Z' : ((datum.value == 'Discharge' || datum.value == 'Estimated discharge') ? 'M-0.86,0H1.33' : 'triangle-up')"},"size":{"signal":"(datum.value == 'Discharge' || datum.value == 'Estimated discharge' || datum.value == 'Period of approved data') ? 441 : 22"},"fill":{"signal":"datum.value == 'Period of approved data' ? '#009900' : ((datum.value == 'Discharge' || datum.value == 'Estimated discharge') ? 'transparent' : '#ffa500')"},"stroke":{"signal":"datum.value == 'Discharge' ? '#0a7ccf' : (datum.value == 'Estimated discharge' ? '#ff0000' : (datum.value == 'Period of approved data' ? '#009900' : '#ffa500'))"},"strokeWidth":{"signal":"(datum.value == 'Discharge' || datum.value == 'Estimated discharge') ? 2 : (datum.value == 'Period of approved data' ? 0 : 1)"},"opacity":{"value":1}}}}}}}},
   {"data":{"name":"m3"},"mark":{"type":"point","shape":"triangle-up","filled":true,"size":22,"opacity":1},"encoding":{"color":{"datum":"Median daily statistic (51 years)","type":"nominal"}}},
   {"data":{"values":[{"t":2010.15,"v":213,"v2":281}]},"mark":{"type":"rule","strokeWidth":1.5},"encoding":{"y2":{"field":"v2"},"color":{"datum":"Estimated discharge","type":"nominal"}}},
   {"data":{"values":[{"t":2010,"t1":2016,"v":60}]},"mark":{"type":"rule","strokeWidth":5,"clip":false},"encoding":{"x2":{"field":"t1"},"color":{"datum":"Period of approved data","type":"nominal"}}}
  ]
}
]
}
